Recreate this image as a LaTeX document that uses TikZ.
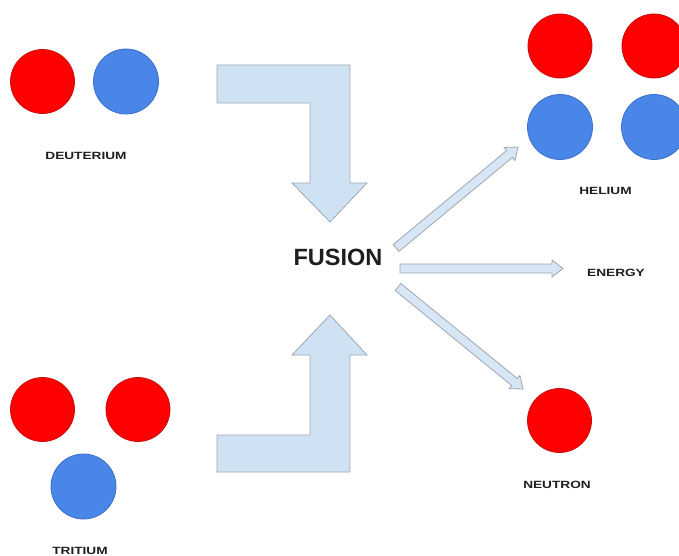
\documentclass[tikz,border=0pt]{standalone}
\usepackage{fontspec}
\setmainfont{Liberation Sans}
\usetikzlibrary{calc}
\definecolor{protonred}{HTML}{FF0000}
\definecolor{protonedge}{HTML}{C81010}
\definecolor{neutronblue}{HTML}{4A86E8}
\definecolor{neutronedge}{HTML}{3A70C8}
\definecolor{bendfill}{HTML}{CFE2F3}
\definecolor{bendedge}{HTML}{9EA7B1}
\definecolor{labelgray}{HTML}{1E1E1E}

% outlined arrow from #1 to #2
\newcommand{\outlinearrow}[2]{%
	\coordinate (s) at (#1);
	\coordinate (e) at (#2);
	\coordinate (h) at ($(e)!11pt!(s)$);
	\draw[thinarrow] ($(s)!4.5pt!90:(e)$) -- ($(h)!4.5pt!-90:(s)$) -- ($(h)!8.5pt!-90:(s)$)
		-- (e) -- ($(h)!8.5pt!90:(s)$) -- ($(h)!4.5pt!90:(s)$) -- ($(s)!4.5pt!-90:(e)$) -- cycle;
}

\begin{document}
\begin{tikzpicture}[x=1pt,y=-1pt,
	proton/.style={circle,fill=protonred,draw=protonedge,line width=0.8pt,minimum size=64pt,inner sep=0pt},
	neutron/.style={circle,fill=neutronblue,draw=neutronedge,line width=0.8pt,minimum size=65pt,inner sep=0pt},
	particle/.style={text=labelgray,font=\fontsize{10.5}{12}\selectfont\bfseries,xscale=1.3,inner sep=0pt},
	bentarrow/.style={fill=bendfill,draw=bendedge,line width=0.8pt,line join=miter},
	thinarrow/.style={fill=bendfill!85,draw=bendedge,line width=0.8pt,line join=miter}]
\useasboundingbox (0,0) rectangle (679,556);

% deuterium
\node[proton] (d1) at (42.5,81.5) {};
\node[neutron] (d2) at (126,81.5) {};
\node[particle] (deut) at (86,156) {DEUTERIUM};

% tritium
\node[proton] (t1) at (42.5,409.5) {};
\node[proton] (t2) at (138,409.5) {};
\node[neutron] (t3) at (83.5,486.5) {};
\node[particle] (trit) at (80,550.5) {TRITIUM};

% bent arrows
\draw[bentarrow] (217,65) -- (350,65) -- (350,183) -- (367,183) -- (330,222) -- (292,183)
	-- (310,183) -- (310,103) -- (217,103) -- cycle;
\draw[bentarrow] (217,472) -- (350,472) -- (350,355) -- (367,355) -- (330,315) -- (292,355)
	-- (310,355) -- (310,435) -- (217,435) -- cycle;

% fusion
\node[text=labelgray,font=\fontsize{23.5}{26}\selectfont\bfseries] (fusion) at (338,257) {FUSION};

% helium
\node[proton] (h1) at (560,46) {};
\node[proton] (h2) at (654,46) {};
\node[neutron] (h3) at (560,127) {};
\node[neutron] (h4) at (654,127) {};
\node[particle] (hel) at (605.5,191) {HELIUM};

% energy
\node[particle] (energy) at (616,272.5) {ENERGY};

% neutron
\node[proton] (n1) at (559.5,420.5) {};
\node[particle] (neut) at (557,485) {NEUTRON};

% products
\coordinate (fusionhe) at (396,248);
\coordinate (fusionen) at (400,268.5);
\coordinate (fusionne) at (398,287);
\coordinate (toher) at (518,147);
\coordinate (toen) at (563,268.5);
\coordinate (tone) at (523,389);
\outlinearrow{fusionhe}{toher}
\outlinearrow{fusionen}{toen}
\outlinearrow{fusionne}{tone}
\end{tikzpicture}
\end{document}
